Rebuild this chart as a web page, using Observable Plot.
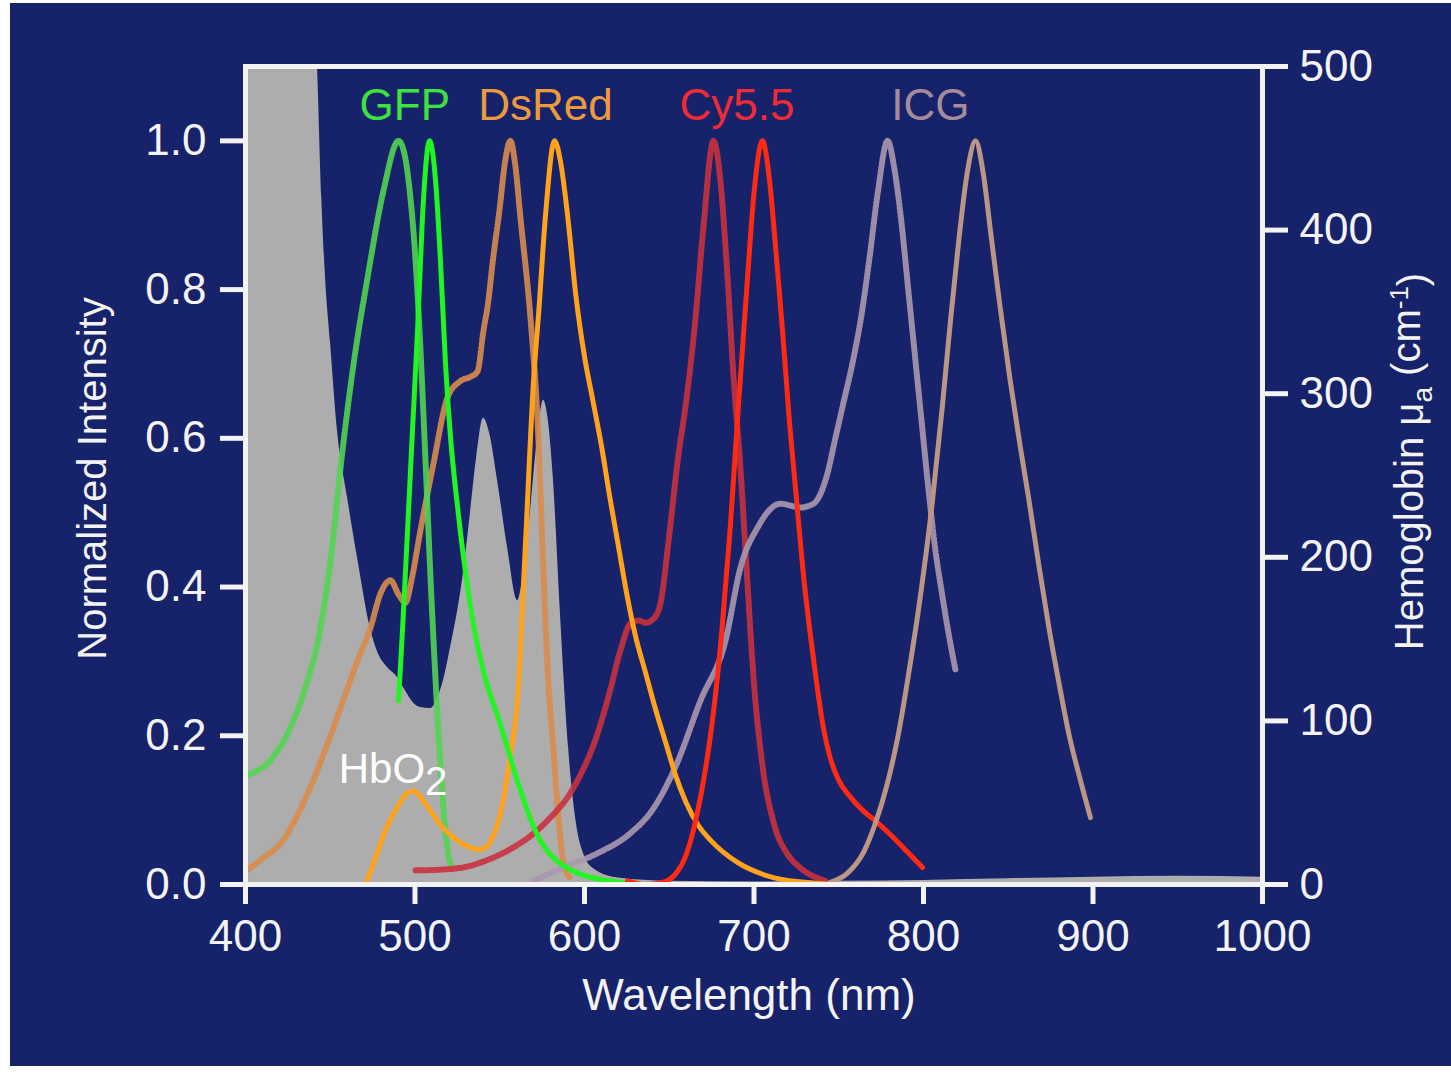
<!DOCTYPE html>
<html><head><meta charset="utf-8">
<script src="https://cdn.jsdelivr.net/npm/d3@7"></script>
<script src="https://cdn.jsdelivr.net/npm/@observablehq/plot@0.6"></script>
<style>
html,body{margin:0;padding:0;background:#ffffff;}
#wrap{position:absolute;left:10px;top:3px;width:1441px;height:1063px;background:#16226a;overflow:hidden;}
</style></head><body><div id="wrap"></div>
<script>
// ---- axis ticks ----
const xTicks = [400, 500, 600, 700, 800, 900, 1000];
const yTicks = [0, 0.2, 0.4, 0.6, 0.8, 1.0];
const hbTicks = [0, 100, 200, 300, 400, 500];
const hbMax = 500, yMax = 1.1;

// ---- spectra: [wavelength nm, normalized intensity] ----
const gfpEx = [[400,0.147],[414.7,0.167],[426.5,0.211],[434.2,0.257],[444.2,0.345],[450.1,0.435],[457.2,0.583],[463.7,0.699],[472,0.816],[481.4,0.933],[490.3,1.0],[494,0.98],[497,0.93],[500,0.85],[503,0.73],[506,0.58],[509,0.42],[512,0.28],[515,0.16],[518,0.07],[521,0.025]];
const gfpEm = [[490.3,0.247],[492.6,0.341],[495.6,0.476],[498.5,0.61],[501.5,0.745],[504.4,0.897],[508.6,1.0],[512,0.95],[515,0.84],[518,0.70],[521,0.60],[524,0.53],[527,0.47],[531,0.40],[537,0.32],[543,0.265],[549,0.225],[555,0.18],[561,0.135],[567,0.095],[573,0.063],[580,0.04],[590,0.022],[600,0.012],[614,0.005],[630,0.001]];
const dsRedEx = [[401,0.019],[410,0.035],[420.6,0.055],[436.6,0.122],[451.9,0.211],[466.1,0.301],[473.7,0.345],[479.6,0.391],[485.5,0.409],[490.3,0.39],[494.4,0.379],[498,0.41],[503.2,0.476],[510.9,0.566],[519.2,0.655],[526.8,0.677],[533,0.683],[536.9,0.69],[540.4,0.745],[543,0.78],[546,0.84],[550,0.91],[553,0.97],[556.3,1.0],[559,0.97],[562.2,0.897],[568.1,0.762],[572.3,0.624],[575.8,0.42],[578,0.30],[581.7,0.18],[585,0.08],[587.6,0.03],[591,0.01]];
const dsRedEm = [[470.8,0.0],[475,0.025],[479.6,0.055],[484,0.08],[489.7,0.105],[495,0.122],[499.1,0.126],[504,0.115],[509.1,0.099],[515,0.08],[522.7,0.063],[530,0.052],[538.6,0.047],[545,0.06],[552,0.113],[556,0.17],[560.5,0.25],[565,0.45],[570,0.68],[573,0.77],[577,0.9],[582.3,1.0],[586,0.97],[590,0.9],[595,0.79],[600,0.71],[605,0.65],[610,0.59],[615,0.52],[620,0.455],[625,0.39],[630,0.335],[636,0.285],[642,0.235],[648,0.19],[654,0.145],[660,0.11],[667,0.08],[675,0.058],[690,0.03],[712,0.009],[730,0.003],[749,0.0]];
const cy55Ex = [[500.3,0.019],[515,0.02],[528.6,0.023],[545,0.035],[558.1,0.05],[568,0.065],[578.2,0.086],[593.5,0.13],[607.7,0.203],[615,0.26],[621.2,0.315],[627.1,0.351],[632,0.355],[636,0.352],[641,0.358],[645,0.38],[650,0.47],[655,0.57],[660,0.65],[665,0.75],[670,0.88],[676.1,1.0],[680,0.95],[684,0.83],[688,0.68],[692,0.56],[696,0.41],[700,0.27],[705,0.16],[712,0.08],[720,0.04],[727,0.023],[742,0.005]];
const cy55Em = [[625.4,0.005],[636,0.0],[645,0.002],[654,0.015],[660,0.04],[666,0.09],[671,0.15],[676,0.23],[681,0.34],[686,0.48],[691,0.65],[696,0.81],[700,0.93],[705,1.0],[709,0.95],[713,0.85],[717,0.74],[721,0.62],[725,0.52],[729,0.42],[733,0.34],[737,0.27],[741,0.21],[745,0.17],[750,0.14],[756,0.12],[764,0.10],[772,0.085],[781,0.066],[790,0.045],[799.4,0.023]];
const icgEx = [[569.9,0.005],[587.6,0.023],[607.7,0.042],[627.1,0.069],[640,0.10],[654,0.16],[668.4,0.247],[683.2,0.328],[692,0.426],[702.1,0.48],[715.6,0.512],[727.4,0.507],[735.1,0.512],[743,0.55],[748,0.6],[753,0.65],[758,0.7],[763,0.76],[768,0.84],[773,0.93],[778.8,1.0],[783,0.96],[787,0.89],[791,0.8],[795,0.71],[799,0.62],[803,0.53],[807,0.45],[811,0.39],[815,0.335],[818.9,0.288]];
const icgEm = [[745,0.003],[755,0.015],[765,0.045],[772,0.085],[778,0.13],[785,0.2],[791,0.28],[798,0.385],[805,0.51],[811,0.64],[816,0.76],[821,0.87],[826,0.96],[830.7,1.0],[835,0.96],[840,0.87],[845,0.78],[851,0.68],[857,0.59],[862,0.52],[868,0.43],[874,0.345],[880,0.27],[886,0.2],[892,0.145],[898.5,0.09]];

// ---- oxyhemoglobin absorption: [wavelength nm, mu_a cm^-1] ----
const hbO2 = [[400,700],[410,1000],[415,1100],[425,900],[435,650],[440,560],[442.5,500],[445,420],[447.2,371],[450.1,332],[454.3,277],[460.2,236.5],[466.7,196],[473.7,156.5],[478,142],[483.8,132.6],[489.7,126.5],[494,119],[499.1,111],[504,108],[509.1,107.6],[513,113],[516.8,124.7],[521,145],[528,186],[532.7,227],[536.5,262],[540.4,285],[544,276],[548.7,247],[554.6,206],[560.5,173.6],[564,190],[568,227],[572,270],[575.8,296],[578.5,285],[581.7,247],[585.8,165.6],[590.6,83.7],[595.9,33],[599.4,19],[605,10],[620,4],[650,2],[700,1.5],[750,2],[800,2.5],[850,3.5],[900,4.5],[950,5],[1000,4.5]];

// ---- labels ----
const labelNames = ["GFP", "DsRed", "Cy5.5", "ICG"];
const labelWl = [494, 577, 690, 804];
const labelVal = [1.047, 1.047, 1.047, 1.047];
const labelColors = ["#3ee23e", "#ec9a3e", "#ee2b36", "#a58c9c"];
const hbLabel = {text: "HbO2", wl: 455, val: 0.155};

const toNorm = v => v * yMax / hbMax;

const curves = [
  {data: dsRedEx, color: "#d88c4c", dashed: true},
  {data: gfpEx, color: "#52d452", dashed: true},
  {data: cy55Ex, color: "#c8323e", dashed: true},
  {data: icgEx, color: "#ab98ae", dashed: true},
  {data: dsRedEm, color: "#ffa21c", dashed: false},
  {data: gfpEm, color: "#22f522", dashed: false},
  {data: cy55Em, color: "#ff2a14", dashed: false},
  {data: icgEm, color: "#bb9684", dashed: false}
];

const ink = "#f3f3f3";
const chart = Plot.plot({
  width: 1441, height: 1063,
  marginLeft: 235, marginRight: 189, marginTop: 63, marginBottom: 182,
  style: {background: "transparent", color: ink, fontFamily: "'Liberation Sans', Arial, sans-serif"},
  x: {domain: [400, 1000]},
  y: {domain: [0, yMax]},
  marks: [
    Plot.areaY(hbO2, {x: d => d[0], y: d => toNorm(d[1]), fill: "#adadad", curve: "monotone-x", clip: true}),
    ...curves.map(c => Plot.line(c.data, {
      x: d => d[0], y: d => d[1], stroke: c.color, strokeWidth: c.dashed ? 6 : 5,
      curve: "monotone-x", clip: true,
      ...(c.dashed ? {strokeDasharray: "2,2", strokeOpacity: 0.9} : {})
    })),
    ...labelNames.map((n, i) => Plot.text([n], {x: () => labelWl[i], y: () => labelVal[i], fill: labelColors[i], fontSize: 44})),
    Plot.text([hbLabel], {x: "wl", y: "val", text: "text", textAnchor: "start", fill: "#ffffff", fontSize: 42}),
    Plot.frame({stroke: ink, strokeWidth: 5}),
    Plot.axisX({ticks: xTicks, tickSize: 20, tickPadding: 15, strokeWidth: 5, fontSize: 44, label: null, tickFormat: d => String(d)}),
    Plot.axisY({ticks: yTicks, tickSize: 25, tickPadding: 14, strokeWidth: 5, fontSize: 44, label: null, tickFormat: d => d.toFixed(1)}),
    Plot.axisY({anchor: "right", ticks: hbTicks.map(toNorm), tickSize: 25, tickPadding: 12, strokeWidth: 5, fontSize: 44, label: null, tickFormat: d => String(Math.round(d * hbMax / yMax))}),
    Plot.text(["Normalized Intensity"], {frameAnchor: "left", textAnchor: "middle", dx: -152, dy: 3, rotate: -90, fontSize: 40}),
    Plot.text(["Hemoglobin μa (cm-1)"], {frameAnchor: "right", textAnchor: "middle", dx: 148, dy: -14, rotate: -90, fontSize: 40}),
    Plot.text(["Wavelength (nm)"], {frameAnchor: "bottom", textAnchor: "middle", dx: -5, dy: 125, fontSize: 44})
  ]
});

// sub/superscripts
const sel = d3.select(chart);
sel.selectAll("text").filter(function() { return this.textContent === "HbO2"; }).each(function() {
  const t = d3.select(this); t.text(null);
  t.append("tspan").text("HbO");
  t.append("tspan").attr("dy", "0.32em").attr("font-size", "40px").text("2");
});
sel.selectAll("text").filter(function() { return this.textContent === "Hemoglobin μa (cm-1)"; }).each(function() {
  const t = d3.select(this); t.text(null);
  t.append("tspan").text("Hemoglobin μ");
  t.append("tspan").attr("dy", "0.3em").attr("font-size", "28px").text("a");
  t.append("tspan").attr("dy", "-0.3em").text(" (cm");
  t.append("tspan").attr("dy", "-0.45em").attr("font-size", "26px").text("-1");
  t.append("tspan").attr("dy", "0.45em").text(")");
});

document.getElementById("wrap").appendChild(chart);
</script></body></html>
